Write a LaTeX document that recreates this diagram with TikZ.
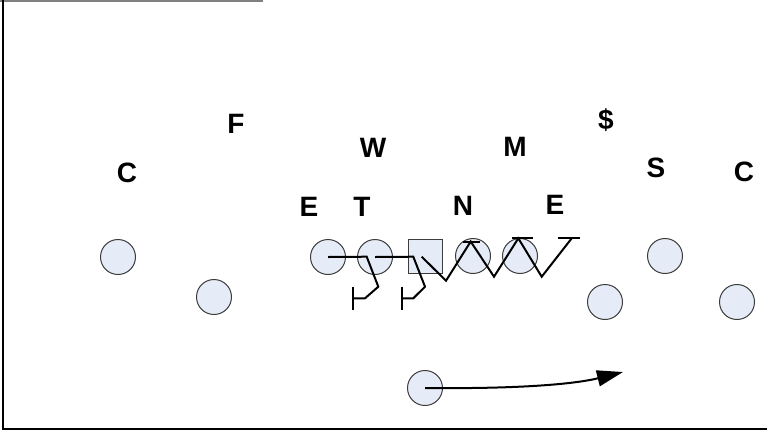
\documentclass[tikz,border=0pt]{standalone}
\usepackage{fontspec}
\setmainfont{Liberation Sans}
\usetikzlibrary{arrows.meta}
\definecolor{pfill}{RGB}{230,236,247}
\definecolor{pdraw}{RGB}{60,60,60}
\tikzset{
  player/.style={circle, draw=pdraw, line width=1pt, fill=pfill, minimum size=35pt, inner sep=0pt},
  center/.style={rectangle, draw=pdraw, line width=1pt, fill=pfill, minimum size=34pt, inner sep=0pt},
  lbl/.style={font=\fontsize{28}{28}\selectfont\bfseries, inner sep=0pt, anchor=base},
  blk/.style={line width=2pt, line join=miter},
  route/.style={line width=2pt, -{Triangle[length=26pt,width=16pt]}}
}
\begin{document}
\begin{tikzpicture}[x=1pt,y=-1pt]
\useasboundingbox (0,0) rectangle (767,432);
% frame
\draw[gray, line width=2pt] (0,0.5) -- (263,0.5);
\draw[black, line width=2pt] (3,0) -- (3,429) -- (767,429);
% labels
\node[lbl] (lc1) at (127,182) {C};
\node[lbl] (lf) at (236,133) {F};
\node[lbl] (lw) at (373,157) {W};
\node[lbl] (le1) at (309,216) {E};
\node[lbl] (lt) at (362,216) {T};
\node[lbl] (ln) at (463,215) {N};
\node[lbl] (le2) at (555,214) {E};
\node[lbl] (lm) at (515,156) {M};
\node[lbl] (ld) at (606,129) {\$};
\node[lbl] (ls) at (656,177) {S};
\node[lbl] (lc2) at (744,181) {C};
% players
\node[player] (p1) at (118,257) {};
\node[player] (p2) at (214,297) {};
\node[player] (pe) at (328,257) {};
\node[player] (pt) at (375,257) {};
\node[center] (pc) at (425,256) {};
\node[player] (pg) at (473,256) {};
\node[player] (ph) at (520,256) {};
\node[player] (ps) at (665,256) {};
\node[player] (pr1) at (605,302) {};
\node[player] (pr2) at (737,302) {};
\node[player] (qb) at (425,388) {};
% blocking lines
\coordinate (eb) at (353.3,298.3);
\draw[blk] (pe.center) -- (366.7,256.7) -- (378.3,286.7) -- (365,298.3) -- (eb);
\draw[blk] (353.3,286.7) -- (353.3,310);
\coordinate (tb) at (401.7,298.3);
\draw[blk] (pt.center) -- (413.3,256.7) -- (425,286.7) -- (413.3,298.3) -- (tb);
\draw[blk] (401.7,286.7) -- (401.7,310);
\coordinate (z0) at (421.7,256.7);
\draw[blk] (z0) -- (446,280.7) -- (470.7,241.5) -- (494,276.7) -- (518.3,238.3) -- (541.7,276.7) -- (571.7,238.3);
\draw[blk] (463.3,241.5) -- (480,241.5);
\draw[blk] (511.7,238) -- (533.3,238);
\draw[blk] (558.3,238.3) -- (580,238.3);
% route
\coordinate (rt) at (623,372);
\draw[route] (qb.center) .. controls (520,389) and (575,384) .. (rt);
\end{tikzpicture}
\end{document}
